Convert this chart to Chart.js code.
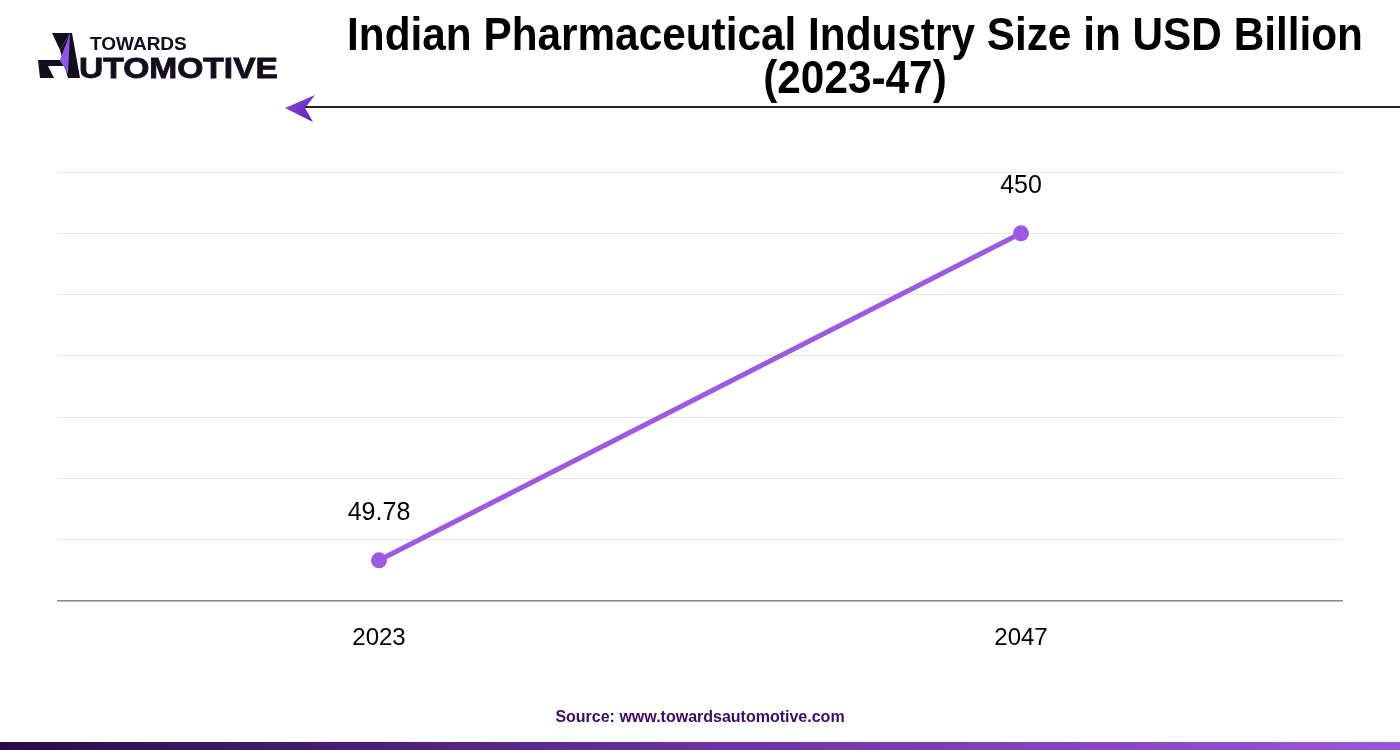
<!DOCTYPE html>
<html>
<head>
<meta charset="utf-8">
<script src="https://cdn.jsdelivr.net/npm/chart.js"></script>
<style>
  html, body { margin: 0; padding: 0; background: #fff; }
  #wrap { position: relative; width: 1400px; height: 750px; overflow: hidden; background: #fff; }
  #chartBox { position: absolute; left: 0; top: 0; width: 1400px; height: 750px; }
  #title { position: absolute; left: 155px; width: 1400px; top: 13px; text-align: center; white-space: nowrap;
    font-family: "Liberation Sans", Arial, sans-serif; font-weight: bold;
    font-size: 46px; line-height: 43px; color: #000; transform: scaleX(0.92); transform-origin: 700px 0; }
  #rule { position: absolute; left: 305px; top: 106px; width: 1095px; height: 1.6px; background: #222; }
  #source { position: absolute; left: 0; width: 1400px; top: 708px; text-align: center;
    font-family: "Liberation Sans", Arial, sans-serif; font-size: 16px; font-weight: bold; color: #3b0b66; }
  #bar { position: absolute; left: 0; top: 742px; width: 1400px; height: 8px;
    background: linear-gradient(to right, #2a0b48, #6a32a0 50%, #9b57da); }
  #logo { position: absolute; left: 0; top: 0; }
</style>
</head>
<body>
<div id="wrap">
  <div id="chartBox"><canvas id="c" width="1400" height="750"></canvas></div>
  <svg id="logo" width="330" height="130" viewBox="0 0 330 130">
    <defs>
      <linearGradient id="ag" x1="0" y1="0" x2="1" y2="1">
        <stop offset="0" stop-color="#8a4be0"/>
        <stop offset="1" stop-color="#5a1fb8"/>
      </linearGradient>
    </defs>
    <polygon points="52,33 70,33 60,50" fill="#140d1e"/>
    <polygon points="60,50 70,33 72,33 80,78 68,78" fill="#140d1e"/>
    <polygon points="38,60 60,60 64,66 48,66 54,78 40,78" fill="#140d1e"/>
    <polygon points="70,33 60,60 68,74" fill="#8f55e6"/>
    <text x="90" y="50" font-family="Liberation Sans, Arial, sans-serif" font-weight="bold" font-size="19" fill="#140d1e">TOWARDS</text>
    <text x="79" y="78" font-family="Liberation Sans, Arial, sans-serif" font-weight="900" font-size="29" fill="#140d1e" textLength="199" lengthAdjust="spacingAndGlyphs" stroke="#140d1e" stroke-width="0.8">UTOMOTIVE</text>
    <polygon points="285,108 315,95 305,108 313,122" fill="url(#ag)"/>
  </svg>
  <div id="title">Indian Pharmaceutical Industry Size in USD Billion<br>(2023-47)</div>
  <div id="rule"></div>
  <div id="source">Source: www.towardsautomotive.com</div>
  <div id="bar"></div>
</div>
<script>
const categories = ["2023", "2047"];
const marketSize = [49.78, 450];
const valueLabels = ["49.78", "450"];
const yTicks = [0, 75, 150, 225, 300, 375, 450, 525];

const labelPlugin = {
  id: 'valueLabels',
  afterDatasetsDraw(chart) {
    const ctx = chart.ctx;
    const meta = chart.getDatasetMeta(0);
    ctx.save();
    ctx.font = '25px "Liberation Sans", Arial, sans-serif';
    ctx.fillStyle = '#000';
    ctx.textAlign = 'center';
    ctx.textBaseline = 'middle';
    meta.data.forEach((pt, i) => {
      ctx.fillText(valueLabels[i], pt.x, pt.y - 47);
    });
    ctx.restore();
  }
};

new Chart(document.getElementById('c'), {
  type: 'line',
  data: {
    labels: categories,
    datasets: [{
      data: marketSize,
      borderColor: '#9d5ae0',
      backgroundColor: '#9d5ae0',
      borderWidth: 5,
      pointRadius: 8,
      pointHoverRadius: 8,
      pointBackgroundColor: '#9d5ae0',
      pointBorderWidth: 0,
      tension: 0
    }]
  },
  options: {
    responsive: false,
    animation: false,
    layout: { padding: { left: 58, right: 58, top: 172, bottom: 0 } },
    plugins: { legend: { display: false }, tooltip: { enabled: false } },
    scales: {
      x: {
        offset: true,
        grid: { display: false, drawTicks: false },
        border: { display: true, color: '#8a8a8a', width: 1.5 },
        ticks: { color: '#000', font: { family: '"Liberation Sans", Arial, sans-serif', size: 24 }, padding: 23 },
        afterFit(scale) { scale.height = 149; }
      },
      y: {
        min: 0,
        max: 525,
        afterBuildTicks(scale) { scale.ticks = yTicks.map(v => ({ value: v })); },
        grid: { color: '#e6e6e6', lineWidth: 1, drawTicks: false },
        border: { display: false },
        ticks: { display: false },
        afterFit(scale) { scale.width = 0; }
      }
    }
  },
  plugins: [labelPlugin]
});
</script>
</body>
</html>
